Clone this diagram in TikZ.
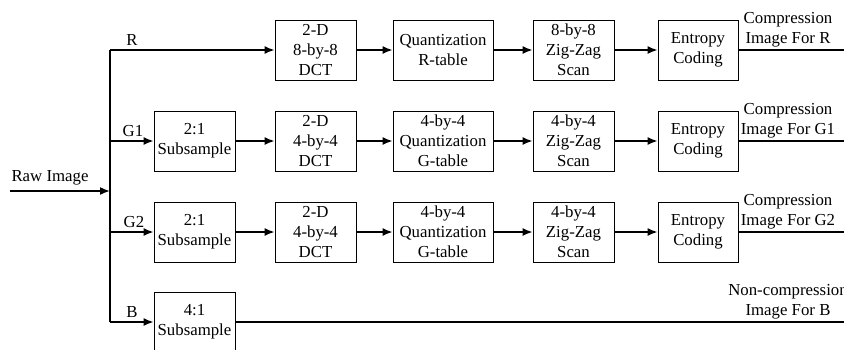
\documentclass[tikz,border=0pt]{standalone}
\usepackage{fontspec}
\setmainfont{Liberation Serif}
\usetikzlibrary{arrows.meta}
\begin{document}
\begin{tikzpicture}[x=1pt,y=-1pt,
 txt/.style={font=\fontsize{16.8}{20}\selectfont},
 box/.style={txt,draw,line width=0.8pt,minimum height=60pt,inner sep=0pt,align=center},
 lbl/.style={txt,inner sep=0pt,align=center},
 conn/.style={line width=1.6pt},
 arr/.style={conn,-{Latex[length=10pt,width=8pt]}}]
\useasboundingbox (0,0) rectangle (844,349);
\clip (0,0) rectangle (844,349);
% row R
\node[box,minimum width=81pt] (dR) at (315.5,50) {2-D\\8-by-8\\DCT};
\node[box,minimum width=100pt] (qR) at (443,50) {Quantization\\R-table};
\node[box,minimum width=81pt] (zR) at (573.5,50) {8-by-8\\Zig-Zag\\Scan};
\node[box,minimum width=80pt] (eR) at (698,50) {Entropy\\Coding};
% row G1
\node[box,minimum width=81pt] (s1) at (194.5,141) {2:1\\Subsample};
\node[box,minimum width=81pt] (d1) at (315.5,141) {2-D\\4-by-4\\DCT};
\node[box,minimum width=100pt] (q1) at (443,141) {4-by-4\\Quantization\\G-table};
\node[box,minimum width=81pt] (z1) at (573.5,141) {4-by-4\\Zig-Zag\\Scan};
\node[box,minimum width=80pt] (e1) at (698,141) {Entropy\\Coding};
% row G2
\node[box,minimum width=81pt] (s2) at (194.5,232) {2:1\\Subsample};
\node[box,minimum width=81pt] (d2) at (315.5,232) {2-D\\4-by-4\\DCT};
\node[box,minimum width=100pt] (q2) at (443,232) {4-by-4\\Quantization\\G-table};
\node[box,minimum width=81pt] (z2) at (573.5,232) {4-by-4\\Zig-Zag\\Scan};
\node[box,minimum width=80pt] (e2) at (698,232) {Entropy\\Coding};
% row B
\node[box,minimum width=81pt] (sB) at (194.5,322) {4:1\\Subsample};
% bus coordinates
\coordinate (bR) at (110,50);
\coordinate (b1) at (110,141);
\coordinate (b2) at (110,232);
\coordinate (bB) at (110,322);
\coordinate (braw) at (110,191);
\coordinate (raw) at (10,191);
\coordinate (oR) at (844,50);
\coordinate (o1) at (844,141);
\coordinate (o2) at (844,232);
\coordinate (oB) at (844,322);
% bus and inputs
\draw[conn] (bR) -- (bB);
\draw[arr] (raw) -- (braw);
\draw[arr] (bR) -- (dR);
\draw[arr] (b1) -- (s1);
\draw[arr] (b2) -- (s2);
\draw[arr] (bB) -- (sB);
% chains
\draw[arr] (dR) -- (qR);
\draw[arr] (qR) -- (zR);
\draw[arr] (zR) -- (eR);
\draw[arr] (s1) -- (d1);
\draw[arr] (d1) -- (q1);
\draw[arr] (q1) -- (z1);
\draw[arr] (z1) -- (e1);
\draw[arr] (s2) -- (d2);
\draw[arr] (d2) -- (q2);
\draw[arr] (q2) -- (z2);
\draw[arr] (z2) -- (e2);
% outputs
\draw[conn] (eR) -- (oR);
\draw[conn] (e1) -- (o1);
\draw[conn] (e2) -- (o2);
\draw[conn] (sB) -- (oB);
% labels
\node[lbl] (tRaw) at (50,178) {Raw Image};
\node[lbl,anchor=south] (tR) at (132,46) {R};
\node[lbl,anchor=south] (tG1) at (133,137) {G1};
\node[lbl,anchor=south] (tG2) at (134,228) {G2};
\node[lbl,anchor=south] (tB) at (132,318) {B};
\node[lbl,anchor=south] (oRt) at (788,47) {Compression\\Image For R};
\node[lbl,anchor=south] (o1t) at (788,138) {Compression\\Image For G1};
\node[lbl,anchor=south] (o2t) at (788,229) {Compression\\Image For G2};
\node[lbl,anchor=south] (oBt) at (788,319) {Non-compression\\Image For B};
\end{tikzpicture}
\end{document}
